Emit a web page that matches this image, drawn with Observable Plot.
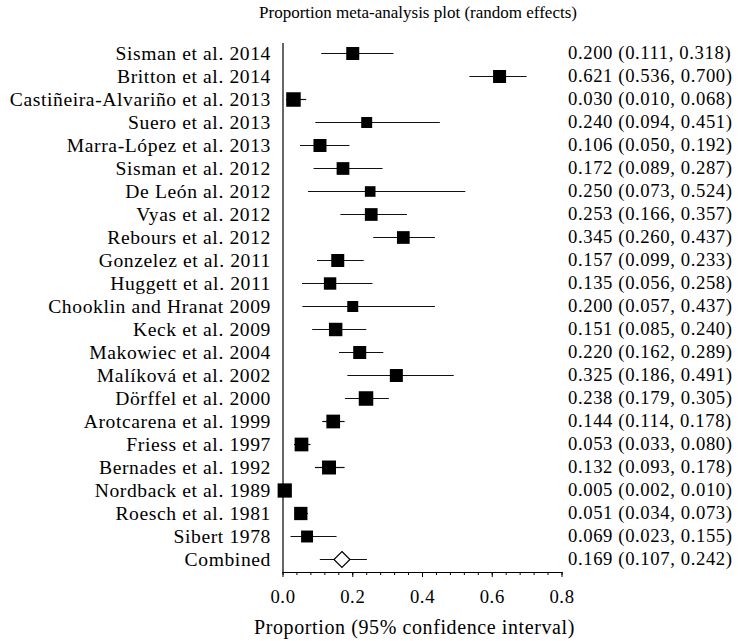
<!DOCTYPE html>
<html>
<head>
<meta charset="utf-8">
<script src="https://cdn.jsdelivr.net/npm/d3@7"></script>
<script src="https://cdn.jsdelivr.net/npm/@observablehq/plot@0.6"></script>
<style>
  html, body { margin: 0; padding: 0; background: #fff; overflow: hidden; }
  #title { width: 738px; height: 26px; line-height: 26px; overflow: hidden; font-family: "Liberation Serif", serif; font-size: 17px; color: #000; box-sizing: border-box; padding-left: 98px; text-align: center; }
  #chart svg { display: block; max-width: none !important; }
</style>
</head>
<body>
<div id="title">Proportion meta-analysis plot (random effects)</div>
<div id="chart"></div>
<script>
const studies = [
  "Sisman et al. 2014", "Britton et al. 2014", "Castiñeira-Alvariño et al. 2013", "Suero et al. 2013",
  "Marra-López et al. 2013", "Sisman et al. 2012", "De León al. 2012", "Vyas et al. 2012",
  "Rebours et al. 2012", "Gonzelez et al. 2011", "Huggett et al. 2011", "Chooklin and Hranat 2009",
  "Keck et al. 2009", "Makowiec et al. 2004", "Malíková et al. 2002", "Dörffel et al. 2000",
  "Arotcarena et al. 1999", "Friess et al. 1997", "Bernades et al. 1992", "Nordback et al. 1989",
  "Roesch et al. 1981", "Sibert 1978"
];
const estimates = [0.200,0.621,0.030,0.240,0.106,0.172,0.250,0.253,0.345,0.157,0.135,0.200,0.151,0.220,0.325,0.238,0.144,0.053,0.132,0.005,0.051,0.069];
const lowers    = [0.111,0.536,0.010,0.094,0.050,0.089,0.073,0.166,0.260,0.099,0.056,0.057,0.085,0.162,0.186,0.179,0.114,0.033,0.093,0.002,0.034,0.023];
const uppers    = [0.318,0.700,0.068,0.451,0.192,0.287,0.524,0.357,0.437,0.233,0.258,0.437,0.240,0.289,0.491,0.305,0.178,0.080,0.178,0.010,0.073,0.155];
// relative study weights (%), read from square areas
const weights   = [4.5,4.5,5.6,3.2,4.5,4.3,3.0,4.3,4.3,4.5,4.1,3.2,4.8,4.5,4.5,5.6,5.0,5.0,5.2,5.4,4.7,3.8];
const combinedLabel = "Combined";
const combinedEstimate = 0.169, combinedLower = 0.107, combinedUpper = 0.242;
const xTicks = [0, 0.2, 0.4, 0.6, 0.8];
const xMinorTicks = d3.range(0, 0.8001, 0.04);
const xLabel = "Proportion (95% confidence interval)";

const rows = studies.map((s, i) => ({study: s, est: estimates[i], lo: lowers[i], hi: uppers[i], w: weights[i]}));
const combined = [{study: combinedLabel, est: combinedEstimate, lo: combinedLower, hi: combinedUpper}];
const all = rows.concat(combined);
const f3 = d3.format(".3f");
const fmt = d => `${f3(d.est)} (${f3(d.lo)}, ${f3(d.hi)})`;
const font = "Liberation Serif, serif";

const chart = Plot.plot({
  width: 738,
  height: 615,
  marginLeft: 282.5,
  marginRight: 176.5,
  marginTop: 17,
  marginBottom: 69,
  insetTop: 7.7,
  insetBottom: 10.9,
  style: {fontFamily: font, fontSize: "20px", color: "#000", background: "#fff", letterSpacing: "0.6px"},
  x: {domain: [0, 0.8]},
  y: {type: "point", domain: all.map(d => d.study), padding: 0},
  r: {type: "sqrt", domain: [0, 4.5], range: [0, 7.34]},
  marks: [
    Plot.frame({anchor: "left", stroke: "#000", strokeWidth: 1.2}),
    Plot.frame({anchor: "bottom", stroke: "#000", strokeWidth: 1.2}),
    Plot.axisX({ticks: xMinorTicks, tickSize: 3, text: null, stroke: "#000", label: null}),
    Plot.axisX({ticks: xTicks, tickSize: 5, tickPadding: 12, tickFormat: d3.format(".1f"), stroke: "#000", fill: "#000", label: null, fontSize: 18.7}),
    Plot.axisY({tickSize: 0, tickPadding: 12, label: null, fontSize: 19.6, fill: "#000"}),
    Plot.ruleX([combinedEstimate], {y1: studies[0], y2: combinedLabel, stroke: "#000", strokeWidth: 1.4, strokeDasharray: "1.4,5.3"}),
    Plot.ruleY(all, {y: "study", x1: "lo", x2: "hi", stroke: "#111", strokeWidth: 1.2}),
    Plot.dot(rows, {x: "est", y: "study", r: "w", symbol: "square", fill: "#000", stroke: null}),
    Plot.dot(combined, {x: "est", y: "study", r: 7.2, symbol: "diamond2", fill: "#fff", stroke: "#000", strokeWidth: 1.2}),
    Plot.text(all, {y: "study", text: fmt, frameAnchor: "right", textAnchor: "start", dx: 6, fontSize: 18.7, fill: "#000"}),
    Plot.text([xLabel], {text: d => d, frameAnchor: "bottom", dx: -8, dy: 55, lineAnchor: "middle", fontSize: 20, fill: "#000"})
  ]
});
document.getElementById("chart").appendChild(chart);
</script>
</body>
</html>
